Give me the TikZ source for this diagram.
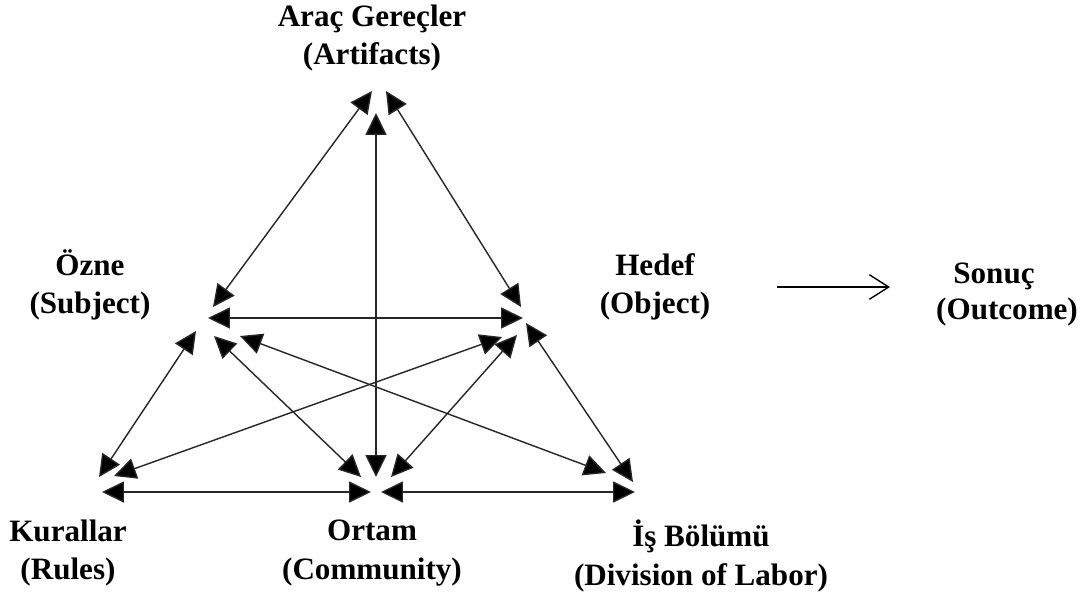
\documentclass[tikz,border=0pt]{standalone}
\usepackage{fontspec}
\setmainfont{Liberation Serif}
\usetikzlibrary{arrows.meta}
\begin{document}
\begin{tikzpicture}[x=0.02cm,y=-0.02cm,
  lbl/.style={font=\fontsize{17.7}{22}\selectfont\bfseries, align=center, inner sep=0pt},
  rel/.style={line width=0.8pt, draw=black!85, {Triangle[length=12.5pt,width=12pt,fill=black]}-{Triangle[length=12.5pt,width=12pt,fill=black]}},
  outarr/.style={line width=0.8pt, -{Straight Barb[length=11pt,width=14pt,line width=0.8pt]}}]
\useasboundingbox (0,0) rectangle (1082,593);
% labels
\node[lbl] (artL) at (372,38) {Araç Gereçler\\(Artifacts)};
\node[lbl] (subL) at (90,285) {Özne\\(Subject)};
\node[lbl] (objL) at (655,287) {Hedef\\(Object)};
\node[lbl, anchor=base] (outL1) at (994,283) {Sonuç};
\node[lbl, anchor=base] (outL2) at (1007,319) {(Outcome)};
\node[lbl] (rulL) at (68,553) {Kurallar\\(Rules)};
\node[lbl] (comL) at (372,553) {Ortam\\(Community)};
\node[lbl] (divL) at (701,556) {İş Bölümü\\(Division of Labor)};
% endpoints
\coordinate (aS) at (372,91);
\coordinate (aO) at (386,91);
\coordinate (aC) at (376,113);
\coordinate (sA) at (213,307);
\coordinate (sO) at (208,318);
\coordinate (sR) at (196,331);
\coordinate (sC) at (214,336);
\coordinate (sD) at (240,336);
\coordinate (oA) at (521,307);
\coordinate (oS) at (523,318);
\coordinate (oR) at (502,337);
\coordinate (oC) at (517,335);
\coordinate (oD) at (526,323);
\coordinate (rS) at (99,477);
\coordinate (rO) at (114,476);
\coordinate (rC) at (102,492);
\coordinate (cA) at (376,477);
\coordinate (cS) at (361,477);
\coordinate (cO) at (391,477);
\coordinate (cR) at (371,492);
\coordinate (cD) at (381,492);
\coordinate (dS) at (606,473);
\coordinate (dO) at (633,482);
\coordinate (dC) at (635,492);
% relations
\draw[rel] (aS) -- (sA);
\draw[rel] (aO) -- (oA);
\draw[rel] (aC) -- (cA);
\draw[rel] (sO) -- (oS);
\draw[rel] (sR) -- (rS);
\draw[rel] (sC) -- (cS);
\draw[rel] (sD) -- (dS);
\draw[rel] (oR) -- (rO);
\draw[rel] (oC) -- (cO);
\draw[rel] (oD) -- (dO);
\draw[rel] (rC) -- (cR);
\draw[rel] (cD) -- (dC);
% outcome arrow
\coordinate (oStart) at (777,287);
\coordinate (oEnd) at (890,287);
\draw[outarr] (oStart) -- (oEnd);
\end{tikzpicture}
\end{document}
